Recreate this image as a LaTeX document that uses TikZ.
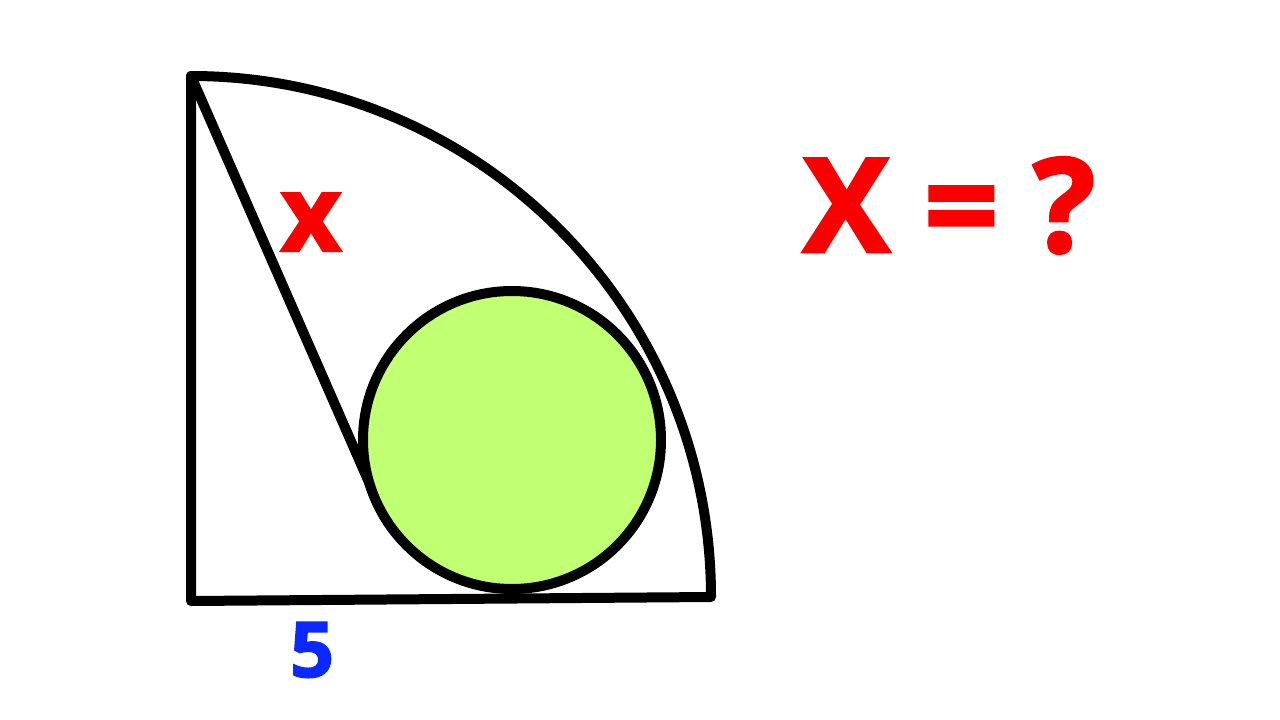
\documentclass[tikz,border=0pt]{standalone}
\usepackage{fontspec}
\setmainfont{Open Sans}[BoldFont={Open Sans Bold}, BoldFeatures={FakeBold=2}]
\usetikzlibrary{calc}
\usetikzlibrary{backgrounds}
\definecolor{ballgreen}{RGB}{193,255,115}
\definecolor{qred}{RGB}{250,0,0}
\definecolor{qblue}{RGB}{10,40,255}
\tikzset{
  thick line/.style={line width=10pt, line join=round, line cap=round},
  big text/.style={font=\bfseries\fontsize{#1}{#1}\selectfont, inner sep=0pt, anchor=base}
}

\begin{document}
\begin{tikzpicture}[x=1pt,y=-1pt]
            \useasboundingbox (0,0) rectangle (1280,720);
            \coordinate (O) at (191,601);
            \coordinate (A) at (191,76);
            \coordinate (B) at (711,597);
            \node[circle, draw, thick line, fill=ballgreen, inner sep=0pt, minimum size=298pt] (ball) at (512,440) {};
            \coordinate (T) at (tangent cs:node=ball,point={(A)},solution=1);
            \draw[thick line] (A) -- (O) -- (B) arc[start angle=0, end angle=90, x radius=520, y radius=-521] -- cycle;
            \begin{scope}[on background layer]
            \draw[thick line] (A) -- ($(T)!6pt!(ball.center)$);
            \end{scope}
            \node[big text=106, text=qred] (x) at (311,251) {x};
            \node[big text=77, text=qblue] (five) at (312,677) {5};
            \node[big text=131, text=qred] (question) at (949,252) {X = ?};
        \end{tikzpicture}
\end{document}
